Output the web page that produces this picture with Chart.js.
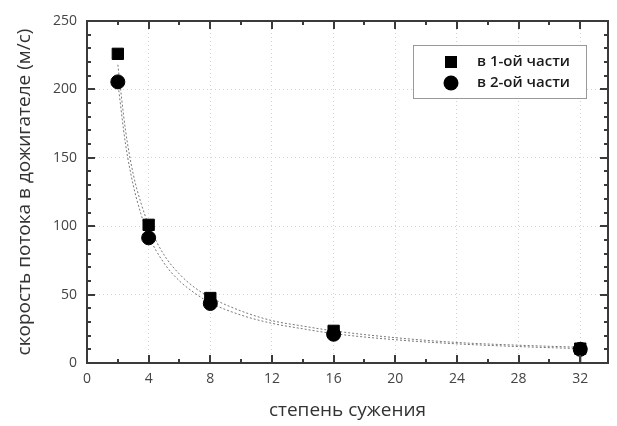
<!DOCTYPE html>
<html>
<head>
<meta charset="utf-8">
<script src="https://cdn.jsdelivr.net/npm/chart.js@4"></script>
<style>
  html, body { margin: 0; padding: 0; background: #fff; }
  #wrap { width: 617px; height: 426px; }
</style>
</head>
<body>
<div id="wrap"><canvas id="c" width="617" height="426"></canvas></div>
<script>
// measured points (степень сужения -> скорость, м/с)
const ratios = [2, 4, 8, 16, 32];
const speedPart1 = [226, 101, 47.5, 23.5, 10.5];
const speedPart2 = [205.5, 91.5, 43.5, 21, 10];
const errDownPart2 = [0, 0, 0, 0, 10];

// fitted curves
const fitX = [2, 2.5, 3, 3.5, 4, 5, 6, 7, 8, 10, 12, 14, 16, 20, 24, 28, 32];
const fitPart1 = [218, 170, 138, 117, 101, 79, 65, 55, 48, 38, 31, 27, 23.5, 18.5, 15, 13, 11.5];
const fitPart2 = [205, 160, 130, 109, 93, 73, 60, 51, 44, 35, 29, 25, 21.5, 17, 14, 12, 10.5];

const xTicks = [0, 4, 8, 12, 16, 20, 24, 28, 32];
const yTicks = [0, 50, 100, 150, 200, 250];
const seriesLabels = ['в 1-ой части', 'в 2-ой части'];

const pts = (xs, ys) => xs.map((x, i) => ({ x: x, y: ys[i] }));

const axisColor = '#3a3a3a';
const labelFont = { family: 'Open Sans', size: 14 };

// inward ticks on all four sides, frame, error bars and the legend box
const framePlugin = {
    id: 'frame',
    afterDatasetsDraw(chart) {
        const ctx = chart.ctx;
        const xs = chart.scales.x, ys = chart.scales.y;
        ctx.save();
        ctx.strokeStyle = '#000';
        ctx.lineWidth = 2;
        errDownPart2.forEach((e, i) => {
            if (!e) return;
            const px = xs.getPixelForValue(ratios[i]);
            ctx.beginPath();
            ctx.moveTo(px, ys.getPixelForValue(speedPart2[i]));
            ctx.lineTo(px, ys.getPixelForValue(speedPart2[i] - e));
            ctx.stroke();
        });
        ctx.restore();
    },
    afterDraw(chart) {
        const ctx = chart.ctx;
        const a = chart.chartArea;
        const xs = chart.scales.x, ys = chart.scales.y;
        ctx.save();
        ctx.strokeStyle = axisColor;
        ctx.lineWidth = 2;
        ctx.strokeRect(a.left, a.top, a.right - a.left, a.bottom - a.top);

        for (let v = 2; v < xs.max; v += 2) {
            const px = Math.round(xs.getPixelForValue(v));
            const len = v % 4 === 0 ? 8 : 4;
            ctx.beginPath();
            ctx.moveTo(px, a.bottom); ctx.lineTo(px, a.bottom - len);
            ctx.moveTo(px, a.top); ctx.lineTo(px, a.top + len);
            ctx.stroke();
        }
        for (let v = 10; v < ys.max; v += 10) {
            const py = Math.round(ys.getPixelForValue(v));
            const len = v % 50 === 0 ? 8 : 4;
            ctx.beginPath();
            ctx.moveTo(a.left, py); ctx.lineTo(a.left + len, py);
            ctx.moveTo(a.right, py); ctx.lineTo(a.right - len, py);
            ctx.stroke();
        }

        // legend
        const lx = 413, ly = 45, lw = 173, lh = 53;
        ctx.fillStyle = '#fff';
        ctx.fillRect(lx, ly, lw, lh);
        ctx.strokeStyle = '#999';
        ctx.lineWidth = 1;
        ctx.strokeRect(lx + 0.5, ly + 0.5, lw, lh);
        ctx.fillStyle = '#000';
        ctx.fillRect(451 - 6, 62 - 6, 12, 12);
        ctx.beginPath();
        ctx.arc(451, 83, 7.5, 0, Math.PI * 2);
        ctx.fill();
        ctx.fillStyle = '#1a1a1a';
        ctx.font = '600 15px "Open Sans"';
        ctx.textBaseline = 'middle';
        ctx.fillText(seriesLabels[0], 477, 62);
        ctx.fillText(seriesLabels[1], 477, 83);
        ctx.restore();
    }
};

new Chart(document.getElementById('c'), {
    type: 'scatter',
    data: {
        datasets: [
            {
                label: seriesLabels[1],
                data: pts(ratios, speedPart2),
                pointStyle: 'circle',
                pointRadius: 7,
                backgroundColor: '#000',
                borderColor: '#000',
                order: 0
            },
            {
                label: seriesLabels[0],
                data: pts(ratios, speedPart1),
                pointStyle: 'rect',
                pointRadius: 8,
                backgroundColor: '#000',
                borderColor: '#000',
                order: 1
            },
            {
                label: 'fit1',
                data: pts(fitX, fitPart1),
                showLine: true,
                pointRadius: 0,
                borderColor: '#777',
                borderWidth: 1,
                borderDash: [2, 2],
                cubicInterpolationMode: 'monotone',
                order: 2
            },
            {
                label: 'fit2',
                data: pts(fitX, fitPart2),
                showLine: true,
                pointRadius: 0,
                borderColor: '#777',
                borderWidth: 1,
                borderDash: [2, 2],
                cubicInterpolationMode: 'monotone',
                order: 2
            }
        ]
    },
    options: {
        responsive: false,
        animation: false,
        layout: { padding: { top: 21, right: 4, left: 0, bottom: 0 } },
        plugins: {
            legend: { display: false },
            tooltip: { enabled: false }
        },
        scales: {
            x: {
                type: 'linear',
                min: 0,
                max: 33.8,
                afterFit: s => { s.height = 63; },
                afterBuildTicks: s => { s.ticks = xTicks.map(v => ({ value: v })); },
                grid: { color: '#d4d4d4', drawTicks: false, lineWidth: 1 },
                border: { display: false, dash: [1, 3] },
                ticks: { color: '#444', font: labelFont, padding: 8 },
                title: {
                    display: true,
                    text: 'степень сужения',
                    color: '#333',
                    font: { family: 'Open Sans', size: 19 },
                    padding: { top: 0, bottom: 4 }
                }
            },
            y: {
                type: 'linear',
                min: 0,
                max: 250,
                afterFit: s => { s.width = 87; },
                afterBuildTicks: s => { s.ticks = yTicks.map(v => ({ value: v })); },
                grid: { color: '#d4d4d4', drawTicks: false, lineWidth: 1 },
                border: { display: false, dash: [1, 3] },
                ticks: { color: '#444', font: labelFont, padding: 10 },
                title: {
                    display: true,
                    text: 'скорость потока в дожигателе (м/с)',
                    color: '#333',
                    font: { family: 'Open Sans', size: 19 },
                    padding: { top: 13, bottom: 0 }
                }
            }
        }
    },
    plugins: [framePlugin]
});
</script>
</body>
</html>
